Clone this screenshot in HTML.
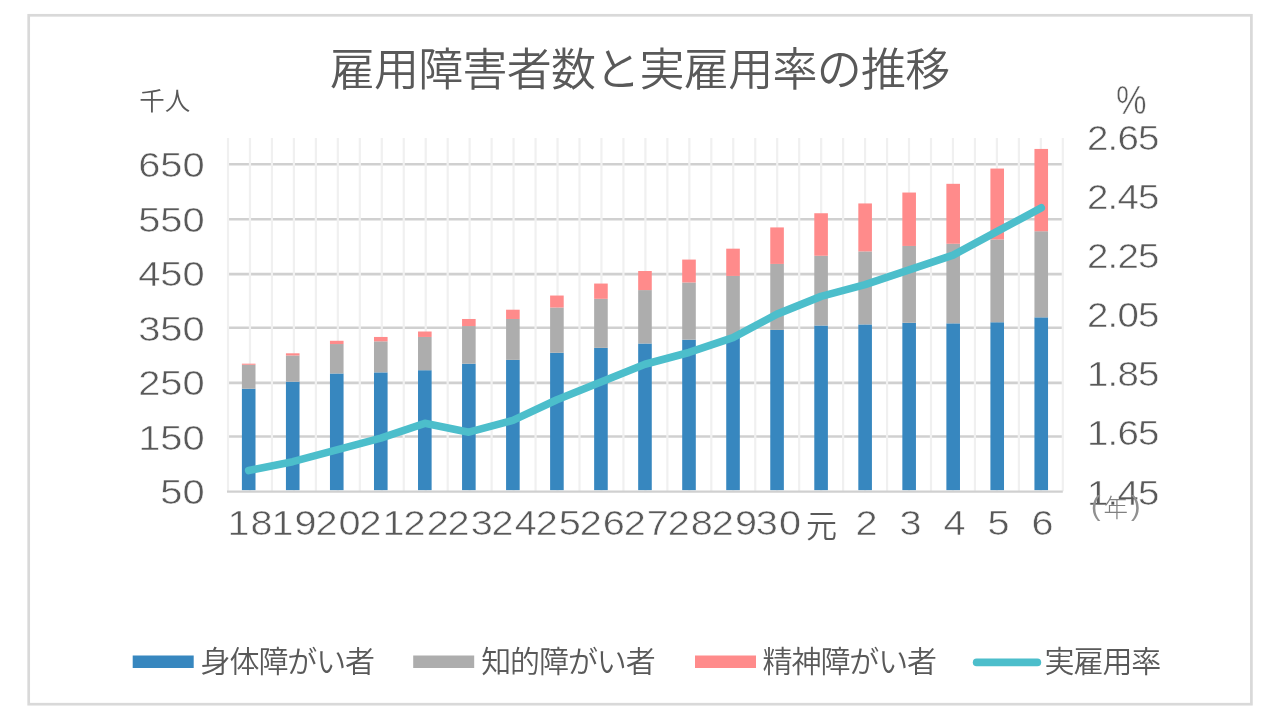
<!DOCTYPE html>
<html lang="ja">
<head>
<meta charset="utf-8">
<title>雇用障害者数と実雇用率の推移</title>
<style>
html,body{margin:0;padding:0;background:#fff;}
body{width:1280px;height:720px;overflow:hidden;position:relative;}
svg{position:absolute;left:0;top:0;display:block;filter:blur(0.65px);}
text{font-family:"Liberation Sans", "Noto Sans CJK JP", sans-serif;fill:#595959;}
.t{font-weight:350;}
.d{stroke:#ffffff;stroke-width:0.55px;}
</style>
</head>
<body>
<svg width="1280" height="720" viewBox="0 0 1280 720">
<rect x="0" y="0" width="1280" height="720" fill="#ffffff"/>
<rect x="28.7" y="15.3" width="1222.7" height="688.9" fill="#ffffff" stroke="#d9d9d9" stroke-width="2.7"/>
<g stroke="#d0d0d0" stroke-width="2.6">
<line x1="228.0" y1="164.20" x2="1062.8" y2="164.20"/>
<line x1="228.0" y1="219.20" x2="1062.8" y2="219.20"/>
<line x1="228.0" y1="274.10" x2="1062.8" y2="274.10"/>
<line x1="228.0" y1="327.75" x2="1062.8" y2="327.75"/>
<line x1="228.0" y1="382.90" x2="1062.8" y2="382.90"/>
<line x1="228.0" y1="436.50" x2="1062.8" y2="436.50"/>
</g>
<g stroke="#f0f0f0" stroke-width="2.2">
<line x1="228.00" y1="138.0" x2="228.00" y2="491.2"/>
<line x1="249.97" y1="138.0" x2="249.97" y2="491.2"/>
<line x1="271.94" y1="138.0" x2="271.94" y2="491.2"/>
<line x1="293.91" y1="138.0" x2="293.91" y2="491.2"/>
<line x1="315.87" y1="138.0" x2="315.87" y2="491.2"/>
<line x1="337.84" y1="138.0" x2="337.84" y2="491.2"/>
<line x1="359.81" y1="138.0" x2="359.81" y2="491.2"/>
<line x1="381.78" y1="138.0" x2="381.78" y2="491.2"/>
<line x1="403.75" y1="138.0" x2="403.75" y2="491.2"/>
<line x1="425.72" y1="138.0" x2="425.72" y2="491.2"/>
<line x1="447.68" y1="138.0" x2="447.68" y2="491.2"/>
<line x1="469.65" y1="138.0" x2="469.65" y2="491.2"/>
<line x1="491.62" y1="138.0" x2="491.62" y2="491.2"/>
<line x1="513.59" y1="138.0" x2="513.59" y2="491.2"/>
<line x1="535.56" y1="138.0" x2="535.56" y2="491.2"/>
<line x1="557.53" y1="138.0" x2="557.53" y2="491.2"/>
<line x1="579.49" y1="138.0" x2="579.49" y2="491.2"/>
<line x1="601.46" y1="138.0" x2="601.46" y2="491.2"/>
<line x1="623.43" y1="138.0" x2="623.43" y2="491.2"/>
<line x1="645.40" y1="138.0" x2="645.40" y2="491.2"/>
<line x1="667.37" y1="138.0" x2="667.37" y2="491.2"/>
<line x1="689.34" y1="138.0" x2="689.34" y2="491.2"/>
<line x1="711.31" y1="138.0" x2="711.31" y2="491.2"/>
<line x1="733.27" y1="138.0" x2="733.27" y2="491.2"/>
<line x1="755.24" y1="138.0" x2="755.24" y2="491.2"/>
<line x1="777.21" y1="138.0" x2="777.21" y2="491.2"/>
<line x1="799.18" y1="138.0" x2="799.18" y2="491.2"/>
<line x1="821.15" y1="138.0" x2="821.15" y2="491.2"/>
<line x1="843.12" y1="138.0" x2="843.12" y2="491.2"/>
<line x1="865.08" y1="138.0" x2="865.08" y2="491.2"/>
<line x1="887.05" y1="138.0" x2="887.05" y2="491.2"/>
<line x1="909.02" y1="138.0" x2="909.02" y2="491.2"/>
<line x1="930.99" y1="138.0" x2="930.99" y2="491.2"/>
<line x1="952.96" y1="138.0" x2="952.96" y2="491.2"/>
<line x1="974.93" y1="138.0" x2="974.93" y2="491.2"/>
<line x1="996.89" y1="138.0" x2="996.89" y2="491.2"/>
<line x1="1018.86" y1="138.0" x2="1018.86" y2="491.2"/>
<line x1="1040.83" y1="138.0" x2="1040.83" y2="491.2"/>
<line x1="1062.80" y1="138.0" x2="1062.80" y2="491.2"/>
</g>
<g fill="#3787BF">
<rect x="241.90" y="388.74" width="13.6" height="101.46"/>
<rect x="285.93" y="381.65" width="13.6" height="108.55"/>
<rect x="329.96" y="373.48" width="13.6" height="116.72"/>
<rect x="373.99" y="372.39" width="13.6" height="117.81"/>
<rect x="418.02" y="370.21" width="13.6" height="119.99"/>
<rect x="462.05" y="363.67" width="13.6" height="126.53"/>
<rect x="506.08" y="359.86" width="13.6" height="130.34"/>
<rect x="550.11" y="352.77" width="13.6" height="137.43"/>
<rect x="594.14" y="347.87" width="13.6" height="142.33"/>
<rect x="638.17" y="343.50" width="13.6" height="146.69"/>
<rect x="682.20" y="339.69" width="13.6" height="150.51"/>
<rect x="726.23" y="336.96" width="13.6" height="153.24"/>
<rect x="770.26" y="329.88" width="13.6" height="160.32"/>
<rect x="814.29" y="325.52" width="13.6" height="164.68"/>
<rect x="858.32" y="324.43" width="13.6" height="165.77"/>
<rect x="902.35" y="322.79" width="13.6" height="167.41"/>
<rect x="946.38" y="323.34" width="13.6" height="166.86"/>
<rect x="990.41" y="322.25" width="13.6" height="167.95"/>
<rect x="1034.44" y="317.34" width="13.6" height="172.86"/>
</g>
<g fill="#ADADAD">
<rect x="241.90" y="364.76" width="13.6" height="23.98"/>
<rect x="285.93" y="355.50" width="13.6" height="26.16"/>
<rect x="329.96" y="344.05" width="13.6" height="29.43"/>
<rect x="373.99" y="341.32" width="13.6" height="31.06"/>
<rect x="418.02" y="336.96" width="13.6" height="33.25"/>
<rect x="462.05" y="326.06" width="13.6" height="37.61"/>
<rect x="506.08" y="318.98" width="13.6" height="40.88"/>
<rect x="550.11" y="307.53" width="13.6" height="45.24"/>
<rect x="594.14" y="298.81" width="13.6" height="49.05"/>
<rect x="638.17" y="290.09" width="13.6" height="53.41"/>
<rect x="682.20" y="282.46" width="13.6" height="57.22"/>
<rect x="726.23" y="275.92" width="13.6" height="61.04"/>
<rect x="770.26" y="263.93" width="13.6" height="65.95"/>
<rect x="814.29" y="255.76" width="13.6" height="69.76"/>
<rect x="858.32" y="251.40" width="13.6" height="73.03"/>
<rect x="902.35" y="245.95" width="13.6" height="76.84"/>
<rect x="946.38" y="243.77" width="13.6" height="79.57"/>
<rect x="990.41" y="239.41" width="13.6" height="82.84"/>
<rect x="1034.44" y="231.23" width="13.6" height="86.11"/>
</g>
<g fill="#FF8B8B">
<rect x="241.90" y="363.67" width="13.6" height="1.09"/>
<rect x="285.93" y="353.31" width="13.6" height="2.18"/>
<rect x="329.96" y="340.78" width="13.6" height="3.27"/>
<rect x="373.99" y="336.96" width="13.6" height="4.36"/>
<rect x="418.02" y="331.51" width="13.6" height="5.45"/>
<rect x="462.05" y="318.98" width="13.6" height="7.08"/>
<rect x="506.08" y="309.71" width="13.6" height="9.27"/>
<rect x="550.11" y="295.54" width="13.6" height="11.99"/>
<rect x="594.14" y="283.55" width="13.6" height="15.26"/>
<rect x="638.17" y="271.02" width="13.6" height="19.07"/>
<rect x="682.20" y="259.57" width="13.6" height="22.89"/>
<rect x="726.23" y="248.67" width="13.6" height="27.25"/>
<rect x="770.26" y="227.42" width="13.6" height="36.51"/>
<rect x="814.29" y="213.25" width="13.6" height="42.51"/>
<rect x="858.32" y="203.44" width="13.6" height="47.96"/>
<rect x="902.35" y="192.54" width="13.6" height="53.41"/>
<rect x="946.38" y="183.82" width="13.6" height="59.95"/>
<rect x="990.41" y="168.56" width="13.6" height="70.85"/>
<rect x="1034.44" y="148.94" width="13.6" height="82.30"/>
</g>
<line x1="227.0" y1="491.6" x2="1062.8" y2="491.6" stroke="#d0d0d0" stroke-width="2.2"/>
<polyline points="248.70,470.54 292.73,461.68 336.76,449.88 380.79,438.07 424.82,423.31 468.85,432.17 512.88,420.36 556.91,399.70 600.94,381.99 644.97,364.28 689.00,352.47 733.03,337.71 777.06,314.10 821.09,296.39 865.12,284.58 909.15,269.82 953.18,255.07 997.21,231.45 1041.24,207.84" fill="none" stroke="#4CBECB" stroke-width="7.6" stroke-linecap="round" stroke-linejoin="round"/>
<text class="t" x="639.6" y="86.4" font-size="45" letter-spacing="-0.73" text-anchor="middle">雇用障害者数と実雇用率の推移</text>
<text class="t" x="139.2" y="110.3" font-size="25.5">千人</text>
<text class="d" transform="translate(1131.3,113.6) scale(0.86,1)" x="0" y="0" font-size="40" text-anchor="middle">%</text>
<text class="d" transform="translate(204.7,504.4) scale(1.12,1)" font-size="35.6" text-anchor="end" letter-spacing="0">50</text>
<text class="d" transform="translate(204.7,449.9) scale(1.12,1)" font-size="35.6" text-anchor="end" letter-spacing="0">150</text>
<text class="d" transform="translate(204.7,395.3) scale(1.12,1)" font-size="35.6" text-anchor="end" letter-spacing="0">250</text>
<text class="d" transform="translate(204.7,340.8) scale(1.12,1)" font-size="35.6" text-anchor="end" letter-spacing="0">350</text>
<text class="d" transform="translate(204.7,286.3) scale(1.12,1)" font-size="35.6" text-anchor="end" letter-spacing="0">450</text>
<text class="d" transform="translate(204.7,231.8) scale(1.12,1)" font-size="35.6" text-anchor="end" letter-spacing="0">550</text>
<text class="d" transform="translate(204.7,177.2) scale(1.12,1)" font-size="35.6" text-anchor="end" letter-spacing="0">650</text>
<text class="d" transform="translate(1087.1,504.5) scale(1.08,1)" font-size="35.6" letter-spacing="-0.8">1.45</text>
<text class="d" transform="translate(1087.1,445.4) scale(1.08,1)" font-size="35.6" letter-spacing="-0.8">1.65</text>
<text class="d" transform="translate(1087.1,386.2) scale(1.08,1)" font-size="35.6" letter-spacing="-0.8">1.85</text>
<text class="d" transform="translate(1087.1,327.1) scale(1.08,1)" font-size="35.6" letter-spacing="-0.8">2.05</text>
<text class="d" transform="translate(1087.1,268.0) scale(1.08,1)" font-size="35.6" letter-spacing="-0.8">2.25</text>
<text class="d" transform="translate(1087.1,208.8) scale(1.08,1)" font-size="35.6" letter-spacing="-0.8">2.45</text>
<text class="d" transform="translate(1087.1,149.7) scale(1.08,1)" font-size="35.6" letter-spacing="-0.8">2.65</text>
<text class="d" transform="translate(250.6,535.2) scale(1.12,1)" font-size="35.4" text-anchor="middle" letter-spacing="1">18</text>
<text class="d" transform="translate(294.6,535.2) scale(1.12,1)" font-size="35.4" text-anchor="middle" letter-spacing="1">19</text>
<text class="d" transform="translate(338.6,535.2) scale(1.12,1)" font-size="35.4" text-anchor="middle" letter-spacing="1">20</text>
<text class="d" transform="translate(382.6,535.2) scale(1.12,1)" font-size="35.4" text-anchor="middle" letter-spacing="1">21</text>
<text class="d" transform="translate(426.7,535.2) scale(1.12,1)" font-size="35.4" text-anchor="middle" letter-spacing="1">22</text>
<text class="d" transform="translate(470.7,535.2) scale(1.12,1)" font-size="35.4" text-anchor="middle" letter-spacing="1">23</text>
<text class="d" transform="translate(514.7,535.2) scale(1.12,1)" font-size="35.4" text-anchor="middle" letter-spacing="1">24</text>
<text class="d" transform="translate(558.8,535.2) scale(1.12,1)" font-size="35.4" text-anchor="middle" letter-spacing="1">25</text>
<text class="d" transform="translate(602.8,535.2) scale(1.12,1)" font-size="35.4" text-anchor="middle" letter-spacing="1">26</text>
<text class="d" transform="translate(646.8,535.2) scale(1.12,1)" font-size="35.4" text-anchor="middle" letter-spacing="1">27</text>
<text class="d" transform="translate(690.8,535.2) scale(1.12,1)" font-size="35.4" text-anchor="middle" letter-spacing="1">28</text>
<text class="d" transform="translate(734.9,535.2) scale(1.12,1)" font-size="35.4" text-anchor="middle" letter-spacing="1">29</text>
<text class="d" transform="translate(778.9,535.2) scale(1.12,1)" font-size="35.4" text-anchor="middle" letter-spacing="1">30</text>
<text class="t" x="821.6" y="536.5" font-size="31" text-anchor="middle">元</text>
<text class="d" transform="translate(867.0,535.2) scale(1.12,1)" font-size="35.4" text-anchor="middle" letter-spacing="1">2</text>
<text class="d" transform="translate(911.0,535.2) scale(1.12,1)" font-size="35.4" text-anchor="middle" letter-spacing="1">3</text>
<text class="d" transform="translate(955.0,535.2) scale(1.12,1)" font-size="35.4" text-anchor="middle" letter-spacing="1">4</text>
<text class="d" transform="translate(999.1,535.2) scale(1.12,1)" font-size="35.4" text-anchor="middle" letter-spacing="1">5</text>
<text class="d" transform="translate(1043.1,535.2) scale(1.12,1)" font-size="35.4" text-anchor="middle" letter-spacing="1">6</text>
<text x="1115.8" y="516.8" font-size="24.5" text-anchor="middle" style="fill:#808080;font-weight:300"><tspan font-size="28.5" dy="-2" style="fill:#909090">(</tspan><tspan dx="3" dy="2">年</tspan><tspan font-size="28.5" dx="3" dy="-2" style="fill:#909090">)</tspan></text>
<rect x="132.7" y="655.5" width="61" height="12.5" fill="#3787BF"/>
<text class="t" x="200.6" y="672.3" font-size="30" letter-spacing="-1.1">身体障がい者</text>
<rect x="413.2" y="655.5" width="61" height="12.5" fill="#ADADAD"/>
<text class="t" x="481.2" y="672.3" font-size="30" letter-spacing="-1.1">知的障がい者</text>
<rect x="695.0" y="655.5" width="61" height="12.5" fill="#FF8B8B"/>
<text class="t" x="762.6" y="672.3" font-size="30" letter-spacing="-1.1">精神障がい者</text>
<line x1="976.6" y1="662.4" x2="1037.4" y2="662.4" stroke="#4CBECB" stroke-width="7.6" stroke-linecap="round"/>
<text class="t" x="1044.6" y="672.3" font-size="30" letter-spacing="-1.1">実雇用率</text>
</svg>
</body>
</html>
